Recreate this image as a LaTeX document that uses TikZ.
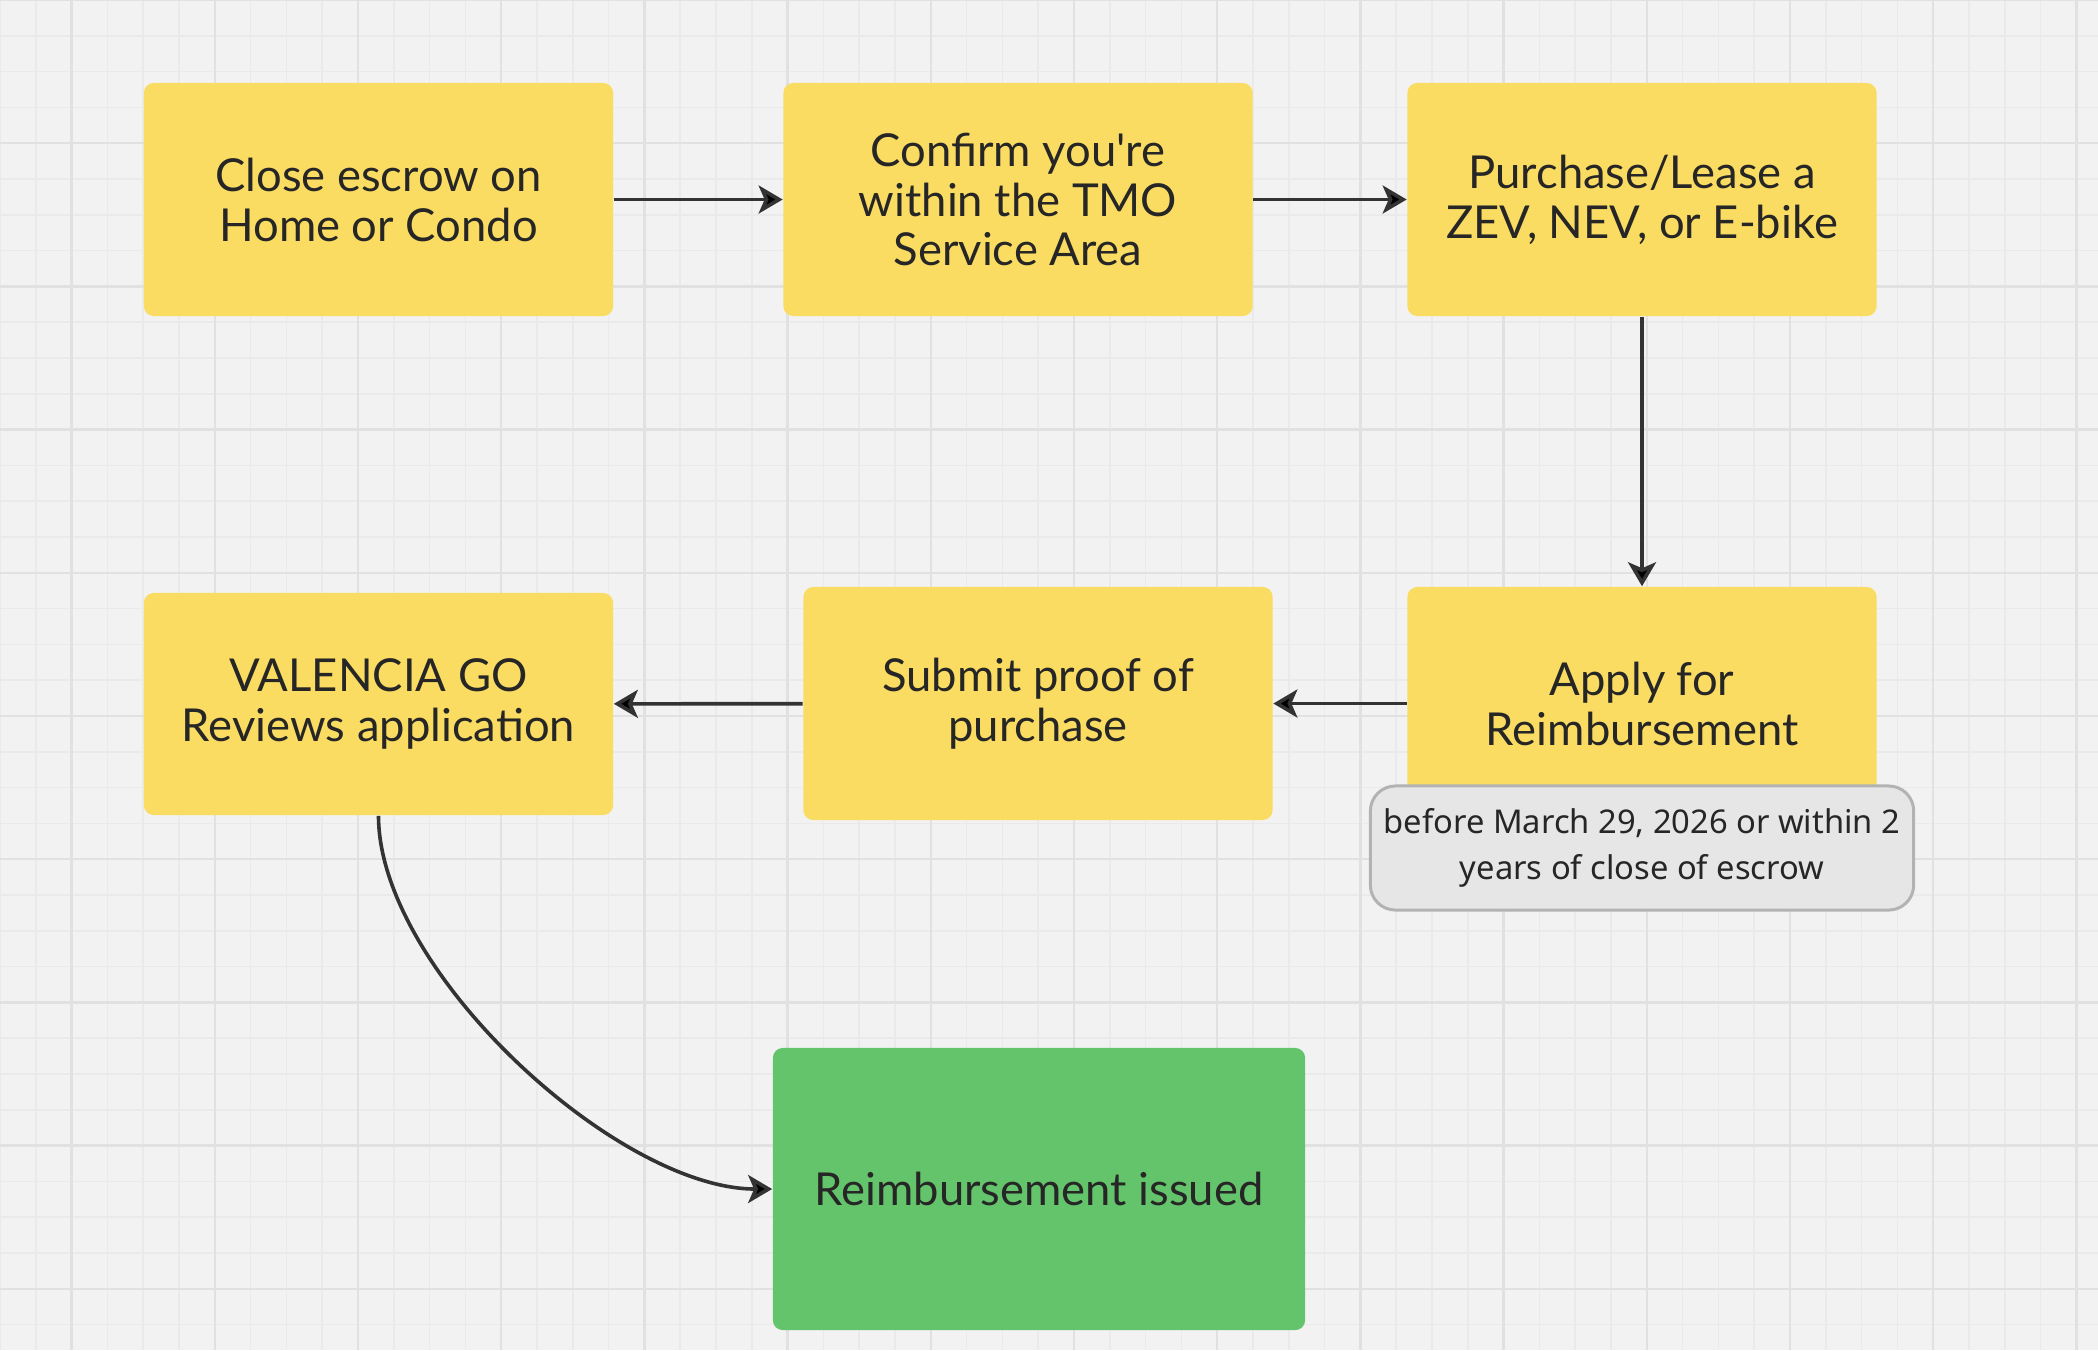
\documentclass[tikz,border=0pt]{standalone}
\usepackage{fontspec}
\setmainfont{Lato}[Ligatures=TeXOff]
\newfontfamily\notefont{Noto Sans}
\usepackage{xcolor}
\usepackage{tikz}
\usetikzlibrary{positioning}
\usetikzlibrary{arrows.meta}

\definecolor{boardbg}{HTML}{F2F2F2}
\definecolor{minorline}{HTML}{EAEAEA}
\definecolor{majorline}{HTML}{E1E1E1}
\definecolor{stepyellow}{HTML}{FADC62}
\definecolor{donegreen}{HTML}{64C46B}
\definecolor{notegray}{HTML}{E6E6E6}
\definecolor{noteedge}{HTML}{B3B3B3}
\definecolor{ink}{HTML}{262626}
\definecolor{arrowink}{HTML}{333333}

\tikzset{
  stepbox/.style={rectangle,rounded corners=0.1cm,fill=stepyellow,
    minimum width=4.69cm,minimum height=2.33cm,align=center,text=ink,
    font=\fontsize{12.9}{14.2}\selectfont},
  donebox/.style={stepbox,fill=donegreen,minimum width=5.32cm,minimum height=2.82cm},
  notebox/.style={rectangle,rounded corners=0.25cm,fill=notegray,draw=noteedge,
    line width=0.03cm,minimum width=5.43cm,minimum height=1.24cm,align=center,
    text=ink,font=\notefont\fontsize{9.3}{12.9}\selectfont},
  flow/.style={->,draw=arrowink,line width=0.036cm},
}

\begin{document}
\begin{tikzpicture}[x=0.01cm,y=-0.01cm,>={Stealth[length=0.24cm,width=0.28cm,inset=0.06cm]}]
\useasboundingbox (0,0) rectangle (2098,1350);
\fill[boardbg] (0,0) rectangle (2098,1350);

% board grid
\foreach \k in {0,...,58}
  \draw[minorline,line width=0.015cm] (35.8*\k,0) -- (35.8*\k,1350);
\foreach \k in {0,...,37}
  \draw[minorline,line width=0.015cm] (0,35.8*\k) -- (2098,35.8*\k);
\foreach \k in {0,...,14}
  \draw[majorline,line width=0.025cm] (71.6+143.2*\k,0) -- (71.6+143.2*\k,1350);
\foreach \k in {0,...,9}
  \draw[majorline,line width=0.025cm] (0,143.2*\k) -- (2098,143.2*\k);

\node[stepbox] (close)    at (378.5,199.5) {Close escrow on\\Home or Condo};
\node[stepbox] (confirm)  at (1018,199.5)  {Confirm you're\\within the TMO\\Service Area};
\node[stepbox] (purchase) at (1642,199.5)  {Purchase/Lease a\\ZEV, NEV, or E-bike};
\node[stepbox] (apply)    at (1642,703.5)  {Apply for\\Reimbursement};
\node[stepbox] (proof)    at (1038,703.5)  {Submit proof of\\purchase};
\node[stepbox,minimum height=2.22cm] (review) at (378.5,704) {VALENCIA GO\\Reviews application};
\node[donebox] (issued)   at (1039,1189)   {Reimbursement issued};
\node[notebox] (deadline) at (1642,848)    {before March 29, 2026 or within 2\\years of close of escrow};

\path[flow] (close)    edge (confirm)
            (confirm)  edge (purchase)
            (purchase) edge (apply)
            (apply)    edge (proof)
            (proof)    edge (review)
            (review)   edge [out=-90,in=180,looseness=0.73] (issued);

\end{tikzpicture}
\end{document}
